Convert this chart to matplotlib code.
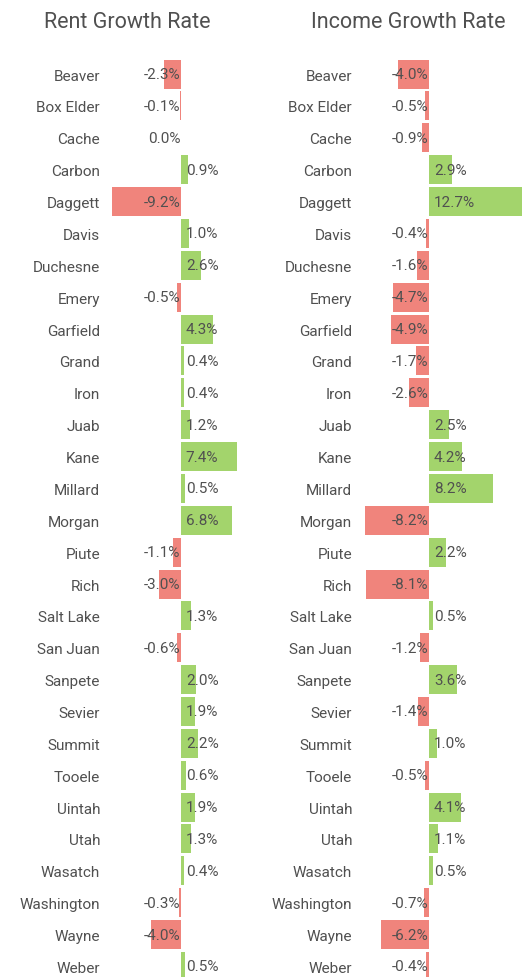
import numpy as np
import matplotlib
matplotlib.use("Agg")
import matplotlib.pyplot as plt

plt.rcParams['font.family'] = ['Roboto', 'DejaVu Sans']

counties = ['Beaver', 'Box Elder', 'Cache', 'Carbon', 'Daggett', 'Davis', 'Duchesne',
            'Emery', 'Garfield', 'Grand', 'Iron', 'Juab', 'Kane', 'Millard', 'Morgan',
            'Piute', 'Rich', 'Salt Lake', 'San Juan', 'Sanpete', 'Sevier', 'Summit',
            'Tooele', 'Uintah', 'Utah', 'Wasatch', 'Washington', 'Wayne', 'Weber']
rent_growth = [-2.3, -0.1, 0.0, 0.9, -9.2, 1.0, 2.6, -0.5, 4.3, 0.4, 0.4, 1.2, 7.4, 0.5,
               6.8, -1.1, -3.0, 1.3, -0.6, 2.0, 1.9, 2.2, 0.6, 1.9, 1.3, 0.4, -0.3, -4.0, 0.5]
income_growth = [-4.0, -0.5, -0.9, 2.9, 12.7, -0.4, -1.6, -4.7, -4.9, -1.7, -2.6, 2.5, 4.2,
                 8.2, -8.2, 2.2, -8.1, 0.5, -1.2, 3.6, -1.4, 1.0, -0.5, 4.1, 1.1, 0.5, -0.7,
                 -6.2, -0.4]

RED = '#f0847c'
GREEN = '#a3d46c'
TEXT = '#505050'

W, H = 522, 978
fig = plt.figure(figsize=(W / 100, H / 100), dpi=100)

row_h = 31.87
top_px = 75.1 - row_h / 2
bot_px = 75.1 + 28 * row_h + row_h / 2


def draw_panel(left_px, xlim, px_per_unit, values, title, title_x, pad):
    width_px = (xlim[1] - xlim[0]) * px_per_unit
    ax = fig.add_axes([left_px / W, 1 - bot_px / H, width_px / W, (bot_px - top_px) / H])
    y = np.arange(len(counties))
    colors = [GREEN if v > 0 else RED for v in values]
    ax.barh(y, values, height=0.91, color=colors, linewidth=0)
    ax.set_xlim(*xlim)
    ax.set_ylim(len(counties) - 0.5, -0.5)
    ax.set_yticks(y)
    ax.set_yticklabels(counties, fontsize=11, color=TEXT)
    ax.tick_params(axis='y', length=0, pad=pad)
    ax.set_xticks([])
    for s in ax.spines.values():
        s.set_visible(False)
    for i, v in enumerate(values):
        if v > 0:
            ax.annotate(f'{v:.1f}%', (0, i), xytext=(3.5, 0), textcoords='offset points',
                        ha='left', va='center', fontsize=11, color=TEXT)
        else:
            ax.annotate(f'{v:.1f}%', (0, i), xytext=(-0.5, 0), textcoords='offset points',
                        ha='right', va='center', fontsize=11, color=TEXT)
    fig.text(title_x / W, 1 - 23 / H, title, ha='center', va='center',
             fontsize=15.5, color=TEXT)
    return ax


draw_panel(106, (-10, 10), 7.5, rent_growth, 'Rent Growth Rate', 127.5, 4.3)
draw_panel(359, (-9, 12), 7.8, income_growth, 'Income Growth Rate', 408, 5)

fig.savefig('out.png', dpi=100)
